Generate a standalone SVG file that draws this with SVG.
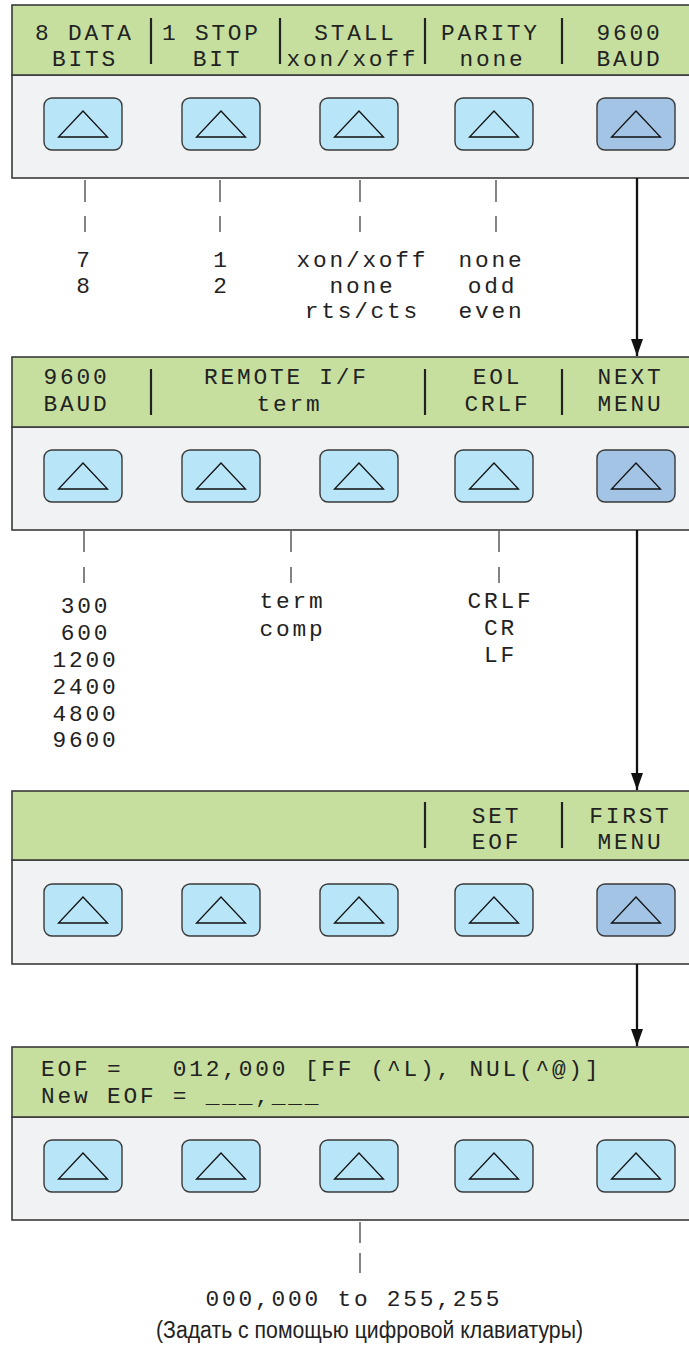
<svg xmlns="http://www.w3.org/2000/svg" xmlns:xlink="http://www.w3.org/1999/xlink" width="689" height="1348" viewBox="0 0 689 1348">
<style>
.green{fill:#c6df9f;stroke:#3a3a3a;stroke-width:1.6}
.gray{fill:#f1f2f4;stroke:#3a3a3a;stroke-width:1.6}
.lcd{font-family:"Liberation Mono","DejaVu Sans Mono",monospace;font-size:22.8px;letter-spacing:2.8px;fill:#222;text-anchor:middle;white-space:pre}
.lcdl{font-family:"Liberation Mono","DejaVu Sans Mono",monospace;font-size:22.8px;letter-spacing:2.8px;fill:#222;text-anchor:start;white-space:pre}
.sep{stroke:#222;stroke-width:2.2}
.tick{stroke:#333;stroke-width:1.2;stroke-dasharray:22 14}
.tick2{stroke:#333;stroke-width:1.2;stroke-dasharray:21 10}
.flow{stroke:#111;stroke-width:2.3;fill:none}
.ru{font-family:"Liberation Sans","Noto Sans",sans-serif;font-size:23px;fill:#222;text-anchor:middle}
</style>
<defs>
<g id="btnL"><rect x="0" y="0" width="78" height="52" rx="8" fill="#b9e5f9" stroke="#3a3a3a" stroke-width="1.4"/><path d="M39 13 L63.5 39 L14.5 39 Z" fill="none" stroke="#111" stroke-width="1.3"/></g>
<g id="btnD"><rect x="0" y="0" width="78" height="52" rx="8" fill="#a3c4e5" stroke="#3a3a3a" stroke-width="1.4"/><path d="M39 13 L63.5 39 L14.5 39 Z" fill="none" stroke="#111" stroke-width="1.3"/></g>
<marker id="ah" markerUnits="userSpaceOnUse" markerWidth="17" markerHeight="12" viewBox="0 0 17 12" refX="17" refY="6" orient="auto"><path d="M0 0 L17 6 L0 12 Z" fill="#111"/></marker>
</defs>

<g id="panel1">
<rect class="gray" x="12" y="75" width="690" height="103"/>
<rect class="green" x="12" y="5" width="690" height="70"/>
<line class="sep" x1="151" y1="18" x2="151" y2="64"/>
<line class="sep" x1="280" y1="18" x2="280" y2="64"/>
<line class="sep" x1="425" y1="18" x2="425" y2="64"/>
<line class="sep" x1="562" y1="18" x2="562" y2="64"/>
<text class="lcd" x="84.4" y="40">8 DATA</text><text class="lcd" x="84.9" y="66">BITS</text>
<text class="lcd" x="211.4" y="40">1 STOP</text><text class="lcd" x="217.4" y="66">BIT</text>
<text class="lcd" x="355.4" y="40">STALL</text><text class="lcd" x="352.4" y="66">xon/xoff</text>
<text class="lcd" x="490.4" y="40">PARITY</text><text class="lcd" x="492.4" y="66">none</text>
<text class="lcd" x="629.4" y="40">9600</text><text class="lcd" x="629.4" y="66">BAUD</text>
<use xlink:href="#btnL" x="44" y="98"/>
<use xlink:href="#btnL" x="182" y="98"/>
<use xlink:href="#btnL" x="320" y="98"/>
<use xlink:href="#btnL" x="455" y="98"/>
<use xlink:href="#btnD" x="597" y="98"/>
</g>

<g id="options1">
<line class="tick" x1="85" y1="180" x2="85" y2="232"/>
<line class="tick" x1="220" y1="180" x2="220" y2="232"/>
<line class="tick" x1="360" y1="180" x2="360" y2="232"/>
<line class="tick" x1="496" y1="180" x2="496" y2="232"/>
<text class="lcd" x="84.4" y="267">7</text><text class="lcd" x="84.4" y="293">8</text>
<text class="lcd" x="221.4" y="267">1</text><text class="lcd" x="221.4" y="293">2</text>
<text class="lcd" x="362.4" y="267">xon/xoff</text><text class="lcd" x="362.4" y="293">none</text><text class="lcd" x="362.4" y="318">rts/cts</text>
<text class="lcd" x="491.4" y="267">none</text><text class="lcd" x="492.4" y="293">odd</text><text class="lcd" x="491.4" y="318">even</text>
</g>

<g id="panel2">
<rect class="gray" x="12" y="427" width="690" height="103"/>
<rect class="green" x="12" y="357" width="690" height="70"/>
<line class="sep" x1="151" y1="369" x2="151" y2="415"/>
<line class="sep" x1="425" y1="369" x2="425" y2="415"/>
<line class="sep" x1="562" y1="369" x2="562" y2="415"/>
<text class="lcd" x="76.4" y="384">9600</text><text class="lcd" x="76.4" y="411">BAUD</text>
<text class="lcd" x="286.4" y="384">REMOTE I/F</text><text class="lcd" x="289.4" y="411">term</text>
<text class="lcd" x="497.4" y="384">EOL</text><text class="lcd" x="497.4" y="411">CRLF</text>
<text class="lcd" x="630.4" y="384">NEXT</text><text class="lcd" x="630.4" y="411">MENU</text>
<use xlink:href="#btnL" x="44" y="450"/>
<use xlink:href="#btnL" x="182" y="450"/>
<use xlink:href="#btnL" x="320" y="450"/>
<use xlink:href="#btnL" x="455" y="450"/>
<use xlink:href="#btnD" x="597" y="450"/>
</g>

<g id="options2">
<line class="tick" x1="84" y1="531" x2="84" y2="583" style="stroke-dasharray:21 15"/>
<line class="tick" x1="291" y1="531" x2="291" y2="583" style="stroke-dasharray:21 15"/>
<line class="tick" x1="499" y1="531" x2="499" y2="583" style="stroke-dasharray:21 15"/>
<text class="lcd" x="85.4" y="613">300</text>
<text class="lcd" x="85.4" y="640">600</text>
<text class="lcd" x="85.4" y="667">1200</text>
<text class="lcd" x="85.4" y="694">2400</text>
<text class="lcd" x="85.4" y="721">4800</text>
<text class="lcd" x="85.4" y="747">9600</text>
<text class="lcd" x="292.4" y="608">term</text><text class="lcd" x="292.4" y="636">comp</text>
<text class="lcd" x="500.4" y="608">CRLF</text><text class="lcd" x="500.4" y="635">CR</text><text class="lcd" x="500.4" y="662">LF</text>
</g>

<g id="panel3">
<rect class="gray" x="12" y="860" width="690" height="104"/>
<rect class="green" x="12" y="791" width="690" height="69"/>
<line class="sep" x1="425" y1="802" x2="425" y2="848"/>
<line class="sep" x1="562" y1="802" x2="562" y2="848"/>
<text class="lcd" x="496.4" y="823">SET</text><text class="lcd" x="496.4" y="849">EOF</text>
<text class="lcd" x="630.4" y="823">FIRST</text><text class="lcd" x="630.4" y="849">MENU</text>
<use xlink:href="#btnL" x="44" y="884"/>
<use xlink:href="#btnL" x="182" y="884"/>
<use xlink:href="#btnL" x="320" y="884"/>
<use xlink:href="#btnL" x="455" y="884"/>
<use xlink:href="#btnD" x="597" y="884"/>
</g>

<g id="panel4">
<rect class="gray" x="12" y="1117" width="690" height="103"/>
<rect class="green" x="12" y="1047" width="690" height="70"/>
<text class="lcdl" x="41" y="1076" xml:space="preserve">EOF =   012,000 [FF (^L), NUL(^@)]</text>
<text class="lcdl" x="41" y="1103" xml:space="preserve">New EOF = ___,___</text>
<use xlink:href="#btnL" x="44" y="1140"/>
<use xlink:href="#btnL" x="182" y="1140"/>
<use xlink:href="#btnL" x="320" y="1140"/>
<use xlink:href="#btnL" x="455" y="1140"/>
<use xlink:href="#btnL" x="597" y="1140"/>
</g>

<g id="options4">
<line class="tick2" x1="360" y1="1222" x2="360" y2="1273"/>
<text class="lcd" x="353.9" y="1306">000,000 to 255,255</text>
<text class="ru" x="369.5" y="1338" textLength="427" lengthAdjust="spacingAndGlyphs">(Задать с помощью цифровой клавиатуры)</text>
</g>

<g id="connectors">
<line class="flow" x1="637" y1="178" x2="637" y2="356" marker-end="url(#ah)"/>
<line class="flow" x1="637" y1="530" x2="637" y2="790" marker-end="url(#ah)"/>
<line class="flow" x1="637" y1="964" x2="637" y2="1046" marker-end="url(#ah)"/>
</g>
</svg>
